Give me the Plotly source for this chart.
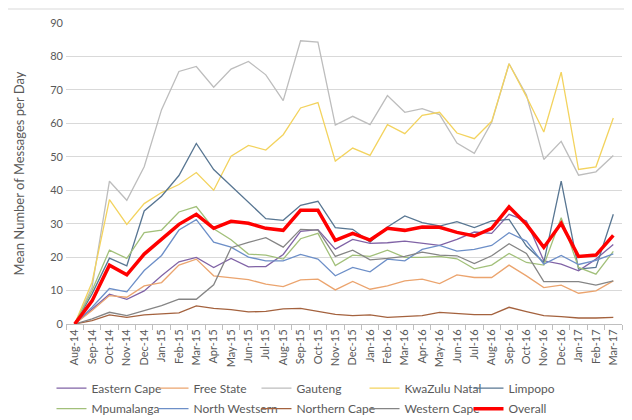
import plotly.graph_objects as go

months = ["Aug-14", "Sep-14", "Oct-14", "Nov-14", "Dec-14", "Jan-15", "Feb-15", "Mar-15",
          "Apr-15", "May-15", "Jun-15", "Jul-15", "Aug-15", "Sep-15", "Oct-15", "Nov-15",
          "Dec-15", "Jan-16", "Feb-16", "Mar-16", "Apr-16", "May-16", "Jun-16", "Jul-16",
          "Aug-16", "Sep-16", "Oct-16", "Nov-16", "Dec-16", "Jan-17", "Feb-17", "Mar-17"]

eastern_cape = [0, 4.5, 8.9, 7.4, 9.9, 14.4, 18.6, 19.9, 16.9, 19.6, 17.1, 17.2, 20.8, 27.7, 28.2, 22.4,
                25.3, 24.1, 24.3, 24.8, 24.1, 23.5, 25.3, 27.5, 27.1, 32.8, 30.8, 18.9, 17.9, 15.9, 19.4, 23.8]
free_state = [0, 4.0, 8.5, 8.0, 11.4, 12.4, 17.6, 19.4, 14.4, 13.8, 13.3, 11.9, 11.2, 13.2, 13.4, 10.2,
              12.7, 10.4, 11.4, 12.9, 13.4, 12.1, 14.7, 13.9, 13.9, 17.6, 14.4, 10.9, 11.6, 9.2, 9.9, 12.9]
gauteng = [0, 11.0, 42.7, 37.0, 47.0, 64.1, 75.5, 77.0, 70.8, 76.2, 78.5, 74.5, 66.8, 84.7, 84.3, 59.5,
           62.1, 59.6, 68.3, 63.3, 64.4, 62.6, 54.1, 51.0, 60.3, 77.8, 68.5, 49.2, 54.6, 44.5, 45.5, 50.4]
kwazulu_natal = [0, 12.5, 37.2, 29.8, 36.0, 39.3, 41.7, 45.3, 40.0, 50.2, 53.4, 52.0, 56.6, 64.6, 66.2, 48.7,
                 52.6, 50.4, 59.6, 56.9, 62.4, 63.3, 57.1, 55.4, 60.6, 77.8, 68.0, 57.4, 75.3, 46.2, 47.0, 61.6]
limpopo = [0, 9.0, 19.7, 17.4, 33.8, 38.2, 44.4, 54.0, 46.2, 41.2, 36.3, 31.5, 31.0, 35.5, 36.7, 28.8,
           28.3, 24.5, 29.0, 32.3, 30.3, 29.3, 30.6, 28.8, 30.8, 31.3, 23.3, 18.4, 42.7, 16.4, 16.9, 32.8]
mpumalanga = [0, 10.0, 22.1, 19.6, 27.3, 28.1, 33.5, 35.1, 28.5, 25.2, 20.9, 20.6, 19.4, 25.5, 27.1, 17.5,
              20.6, 20.2, 22.1, 19.9, 19.9, 20.2, 19.5, 16.5, 17.6, 21.1, 18.4, 17.6, 31.8, 16.9, 14.9, 21.7]
north_westsern = [0, 5.0, 10.6, 9.6, 16.0, 20.5, 28.1, 31.2, 24.5, 23.0, 20.0, 18.9, 18.9, 20.8, 19.4, 14.4,
                  16.9, 15.6, 19.4, 18.9, 22.3, 23.5, 21.8, 22.3, 23.5, 27.3, 24.8, 17.9, 20.5, 17.8, 19.0, 21.0]
northern_cape = [0, 1.0, 2.7, 2.0, 2.7, 3.0, 3.3, 5.4, 4.7, 4.3, 3.6, 3.8, 4.5, 4.7, 3.8, 2.9,
                 2.5, 2.7, 2.0, 2.3, 2.5, 3.5, 3.2, 2.8, 2.8, 5.0, 3.7, 2.5, 2.2, 1.8, 1.8, 2.0]
western_cape = [0, 1.5, 3.5, 2.5, 4.0, 5.5, 7.4, 7.4, 11.7, 22.8, 24.4, 25.8, 23.0, 28.3, 28.1, 20.2,
                22.1, 19.2, 19.6, 20.2, 21.5, 20.6, 20.4, 18.1, 20.4, 24.0, 21.1, 12.7, 12.7, 12.7, 11.6, 12.9]
overall = [0, 6.9, 17.6, 14.7, 20.9, 25.3, 29.8, 32.8, 28.6, 30.7, 30.1, 28.6, 28.0, 34.0, 34.0, 25.0,
           27.1, 25.1, 28.6, 28.0, 29.0, 28.9, 27.4, 26.3, 28.6, 35.0, 29.8, 22.9, 30.1, 20.2, 20.6, 26.5]

series = [
    ("Eastern Cape", eastern_cape, "#8063A6", 1.3),
    ("Free State", free_state, "#EBA46E", 1.3),
    ("Gauteng", gauteng, "#BDBDBD", 1.3),
    ("KwaZulu Natal", kwazulu_natal, "#F3D35E", 1.3),
    ("Limpopo", limpopo, "#587692", 1.3),
    ("Mpumalanga", mpumalanga, "#A2C07A", 1.3),
    ("North Westsern", north_westsern, "#6D8FC8", 1.3),
    ("Northern Cape", northern_cape, "#A4623E", 1.3),
    ("Western Cape", western_cape, "#858585", 1.3),
    ("Overall", overall, "#FF0000", 3.5),
]

FONT = "Lato"
LEG_COLS = [-0.0261, 0.1574, 0.3426, 0.5369, 0.7239]
LEG_ROWS = [-0.165, -0.233]

fig = go.Figure()
legend_layouts = {}
for i, (name, vals, col, w) in enumerate(series):
    key = "legend" if i == 0 else f"legend{i + 1}"
    fig.add_trace(go.Scatter(x=months, y=vals, name=name, mode="lines",
                             line=dict(color=col, width=w), legend=key))
    legend_layouts[key] = dict(x=LEG_COLS[i % 5], xanchor="left",
                               y=LEG_ROWS[i // 5], yanchor="top",
                               orientation="h", bgcolor="rgba(0,0,0,0)",
                               font=dict(family=FONT, size=12, color="#595959"))

# the page adds an 8 px body margin, so the figure is 8 px smaller each way
fig.update_layout(
    width=624, height=412,
    margin=dict(l=58, r=10, t=15, b=96, autoexpand=False),
    paper_bgcolor="white", plot_bgcolor="white",
    font=dict(family=FONT, size=11, color="#595959"),
    showlegend=True,
    xaxis=dict(type="category", range=[-0.5, 31.5], tickangle=-90, automargin=False,
               showgrid=False, showline=True, linecolor="#BFBFBF", linewidth=1,
               ticks="outside", ticklen=5, tickcolor="#BFBFBF", tickson="boundaries",
               tickfont=dict(family=FONT, size=11, color="#595959")),
    yaxis=dict(range=[0, 90], dtick=10, showgrid=True, gridcolor="#D9D9D9", gridwidth=1,
               zeroline=False, showline=False, ticks="", automargin=False,
               ticklabelstandoff=2,
               tickfont=dict(family=FONT, size=11, color="#595959"),
               title=dict(text="Mean Number of Messages per Day",
                          font=dict(family=FONT, size=13, color="#595959"), standoff=22)),
    shapes=[dict(type="rect", xref="paper", yref="paper",
                 x0=-0.106, x1=1.05, y0=-0.36, y1=1.0465,
                 line=dict(color="#D9D9D9", width=1), layer="below")],
    **legend_layouts,
)

fig.write_html("out.html")
